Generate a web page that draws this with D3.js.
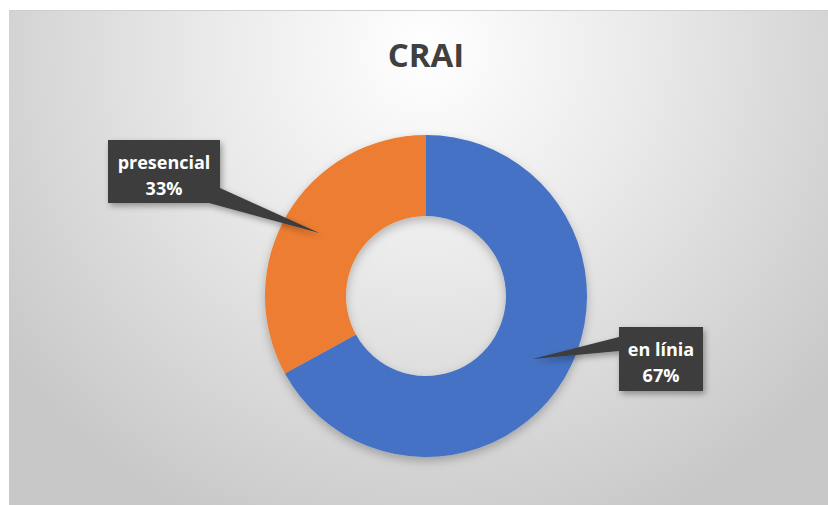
<!DOCTYPE html>
<html>
<head>
<meta charset="utf-8">
<script src="https://cdn.jsdelivr.net/npm/d3@7"></script>
<style>
  html, body { margin: 0; padding: 0; background: #ffffff; }
  svg { display: block; }
</style>
</head>
<body>
<svg id="chart" width="828" height="505"></svg>
<script>
// Data
const categories = ["en línia", "presencial"];
const values = [67, 33];
const colors = ["#4472C4", "#ED7D31"];
const title = "CRAI";

const W = 828, H = 505;
const svg = d3.select("#chart");
const defs = svg.append("defs");

// Background gradient for the chart area
const bg = defs.append("radialGradient")
  .attr("id", "bg").attr("gradientUnits", "userSpaceOnUse")
  .attr("cx", 426).attr("cy", 50).attr("r", 520)
  .attr("fx", 426).attr("fy", 50);
bg.append("stop").attr("offset", "0%").attr("stop-color", "#ffffff");
bg.append("stop").attr("offset", "40%").attr("stop-color", "#ebebeb");
bg.append("stop").attr("offset", "100%").attr("stop-color", "#c8c8c8");

// Soft drop shadow
const sh = defs.append("filter").attr("id", "shadow")
  .attr("x", "-20%").attr("y", "-20%").attr("width", "150%").attr("height", "150%");
sh.append("feDropShadow").attr("dx", 2).attr("dy", 3).attr("stdDeviation", 3)
  .attr("flood-color", "#000").attr("flood-opacity", 0.35);

const sh2 = defs.append("filter").attr("id", "shadow2")
  .attr("x", "-20%").attr("y", "-20%").attr("width", "140%").attr("height", "140%");
sh2.append("feDropShadow").attr("dx", 0).attr("dy", 4).attr("stdDeviation", 5)
  .attr("flood-color", "#000").attr("flood-opacity", 0.25);

// Chart area
svg.append("rect")
  .attr("x", 9).attr("y", 10).attr("width", W - 9).attr("height", H - 10)
  .attr("fill", "url(#bg)");
svg.append("line")
  .attr("x1", 9).attr("x2", W).attr("y1", 10.5).attr("y2", 10.5)
  .attr("stroke", "#cfcfcf").attr("stroke-width", 1);

// Title
svg.append("text")
  .attr("x", 426).attr("y", 67)
  .attr("text-anchor", "middle")
  .attr("font-family", "'Open Sans', 'Liberation Sans', sans-serif")
  .attr("font-weight", 700).attr("font-size", 33)
  .attr("fill", "#404040")
  .text(title);

// Donut
const cx = 426, cy = 296, rOuter = 161, rInner = 80;
const g = svg.append("g").attr("transform", `translate(${cx},${cy})`);

const pie = d3.pie().sort(null).value(d => d.value);
const arcs = pie(categories.map((c, i) => ({ name: c, value: values[i], color: colors[i] })));
const arc = d3.arc().innerRadius(rInner).outerRadius(rOuter);
const tipArc = d3.arc().innerRadius(rOuter * 0.77).outerRadius(rOuter * 0.77);

g.append("g").attr("filter", "url(#shadow2)")
  .selectAll("path").data(arcs).join("path")
  .attr("d", arc)
  .attr("fill", d => d.data.color);

// Callout labels (box placement relative to the chart)
const total = d3.sum(values);
const boxes = {
  "en línia":   { x: 619, y: 327, w: 84, h: 64, base: [[619, 337], [619, 351]] },
  "presencial": { x: 108, y: 140, w: 112, h: 63, base: [[209, 203], [220, 188]] }
};

arcs.forEach(d => {
  const b = boxes[d.data.name];
  const tip = tipArc.centroid(d);
  const lg = svg.append("g").attr("filter", "url(#shadow)");
  // pointer
  lg.append("path")
    .attr("d", d3.line()([b.base[0], [tip[0] + cx, tip[1] + cy], b.base[1]]) + "Z")
    .attr("fill", "#3c3c3c");
  lg.append("rect")
    .attr("x", b.x).attr("y", b.y).attr("width", b.w).attr("height", b.h)
    .attr("fill", "#3c3c3c");
  const t = svg.append("text")
    .attr("text-anchor", "middle")
    .attr("font-family", "'Open Sans', 'Liberation Sans', sans-serif")
    .attr("font-weight", 700).attr("font-size", 18)
    .attr("fill", "#ffffff");
  t.append("tspan").attr("x", b.x + b.w / 2).attr("y", b.y + 29).text(d.data.name);
  t.append("tspan").attr("x", b.x + b.w / 2).attr("y", b.y + 55)
    .text(Math.round(d.data.value / total * 100) + "%");
});
</script>
</body>
</html>
